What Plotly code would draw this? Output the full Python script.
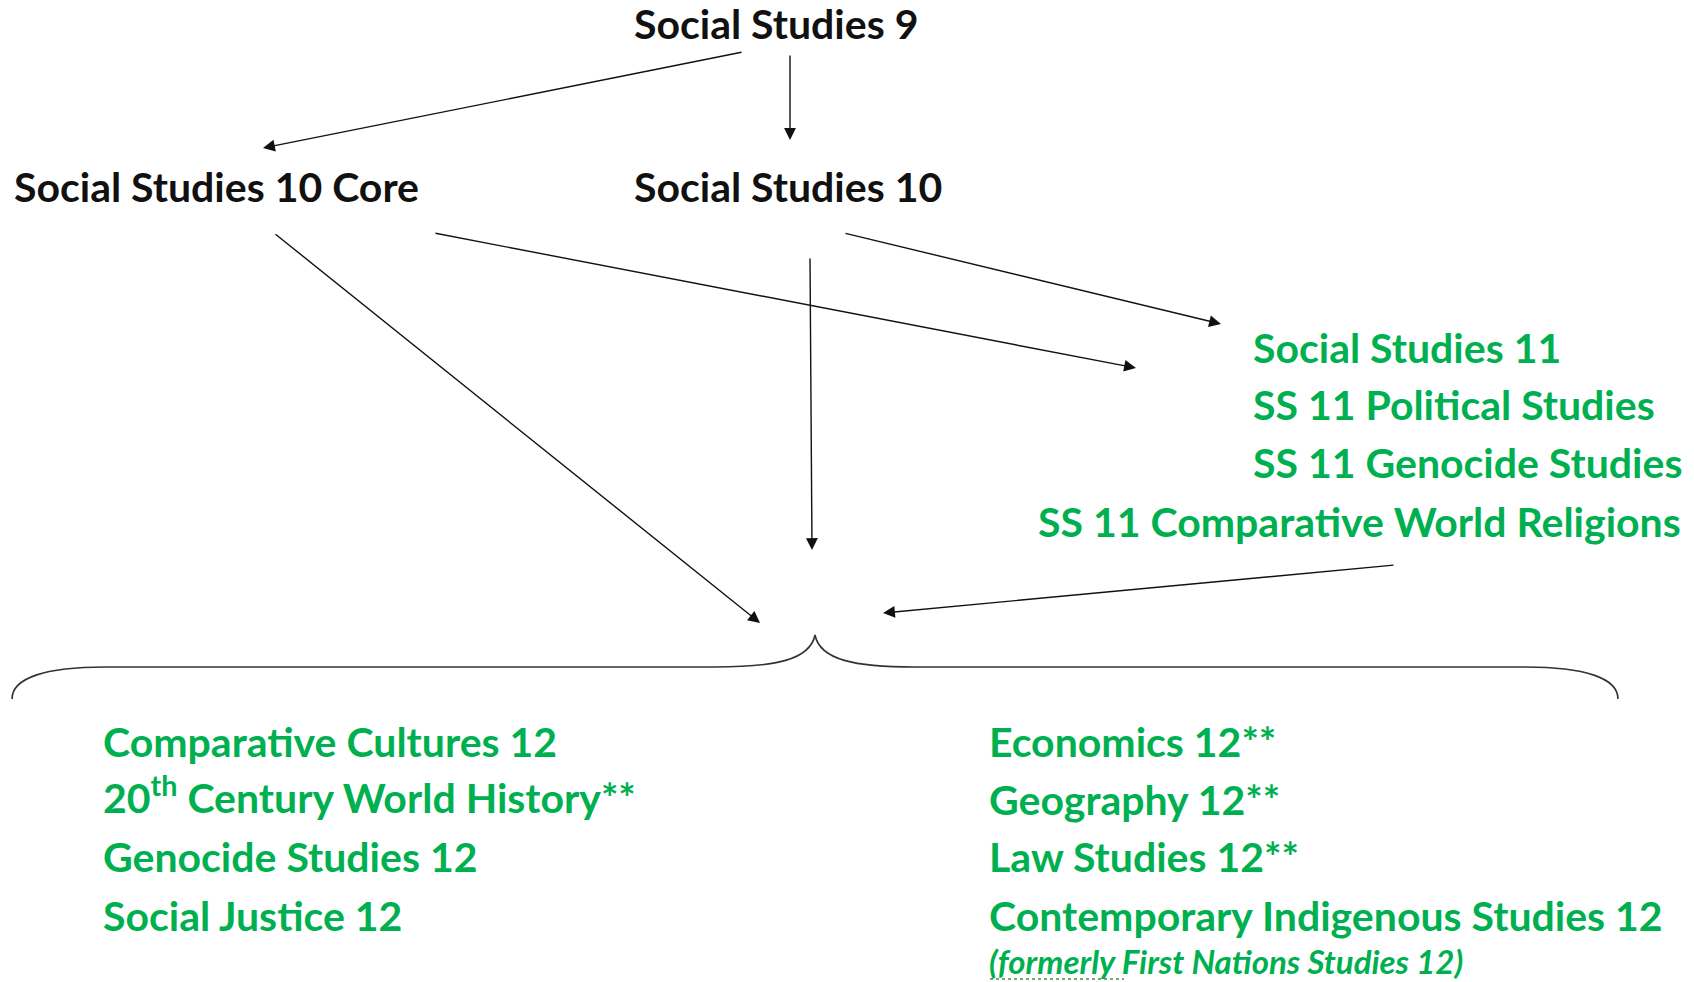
import plotly.graph_objects as go

# ---- content ----
top_courses = ["Social Studies 9", "Social Studies 10 Core", "Social Studies 10"]
grade11_courses = ["Social Studies 11", "SS 11 Political Studies",
                   "SS 11 Genocide Studies", "SS 11 Comparative World Religions"]
grade12_left = ["Comparative Cultures 12", "20<sup>th</sup> Century World History**",
                "Genocide Studies 12", "Social Justice 12"]
grade12_right = ["Economics 12**", "Geography 12**", "Law Studies 12**",
                 "Contemporary Indigenous Studies 12"]
grade12_note = "(formerly First Nations Studies 12)"

# ---- layout (pixel space, y downwards) ----
W, H = 1694, 982
top_pos = [(632, 23), (12, 186), (632, 186)]
g11_pos = [(1251, 347), (1251, 404), (1251, 462), (1036, 521)]
g12l_pos = [(101, 741), (101, 795), (101, 856), (101, 915)]
g12r_pos = [(987, 741), (987, 799), (987, 856), (987, 915)]
note_pos = (987, 961)

# arrows: (tail_x, tail_y, head_x, head_y)
arrows = [
    (743, 52, 263, 148),
    (790, 54, 790, 140),
    (274, 233, 760, 623),
    (434, 233, 1136, 368),
    (844, 233, 1221, 324),
    (810, 257, 812, 550),
    (1395, 565, 883, 613),
]

FONT = "Lato, 'Open Sans', sans-serif"
GREEN = "#00B050"
BLACK = "#111111"
SIZE = 41

fig = go.Figure()
fig.add_trace(go.Scatter(x=[0, W], y=[0, H], mode="markers",
                         marker=dict(opacity=0), hoverinfo="skip", showlegend=False))

annotations = []

def label(text, pos, color, size=SIZE, italic=False):
    t = f"<b>{text}</b>"
    if italic:
        t = f"<i>{t}</i>"
    annotations.append(dict(x=pos[0], y=pos[1], xref="x", yref="y", text=t,
                            showarrow=False, xanchor="left", yanchor="middle",
                            font=dict(family=FONT, size=size, color=color)))

for t, p in zip(top_courses, top_pos):
    label(t, p, BLACK)
for t, p in zip(grade11_courses, g11_pos):
    label(t, p, GREEN)
for t, p in zip(grade12_left, g12l_pos):
    label(t, p, GREEN)
for t, p in zip(grade12_right, g12r_pos):
    label(t, p, GREEN)
label(grade12_note, note_pos, GREEN, size=33, italic=True)

for (tx, ty, hx, hy) in arrows:
    annotations.append(dict(x=hx, y=hy, ax=tx, ay=ty, xref="x", yref="y",
                            axref="x", ayref="y", text="", showarrow=True,
                            arrowhead=2, arrowsize=1.7, arrowwidth=1.4,
                            arrowcolor=BLACK, standoff=0, startstandoff=0))

brace = ("M 12,699 C 12,678 45,667 105,667 L 715,667 "
         "C 775,667 810,660 815,635 C 820,660 855,667 915,667 "
         "L 1525,667 C 1585,667 1618,678 1618,699")

shapes = [
    dict(type="path", path=brace, xref="x", yref="y",
         line=dict(color="#333333", width=1.6)),
    dict(type="line", x0=990, x1=1124, y0=979, y1=979, xref="x", yref="y",
         line=dict(color="#4a8a4a", width=1.5, dash="dot")),
]

fig.update_layout(
    width=W, height=H,
    margin=dict(l=0, r=0, t=0, b=0),
    paper_bgcolor="white", plot_bgcolor="white",
    xaxis=dict(range=[0, W], visible=False, fixedrange=True),
    yaxis=dict(range=[H, 0], visible=False, fixedrange=True),
    annotations=annotations, shapes=shapes,
    showlegend=False,
)

fig.write_html("out.html", config={"displayModeBar": False},
               post_script="document.body.style.margin='0';document.body.style.overflow='hidden';")
